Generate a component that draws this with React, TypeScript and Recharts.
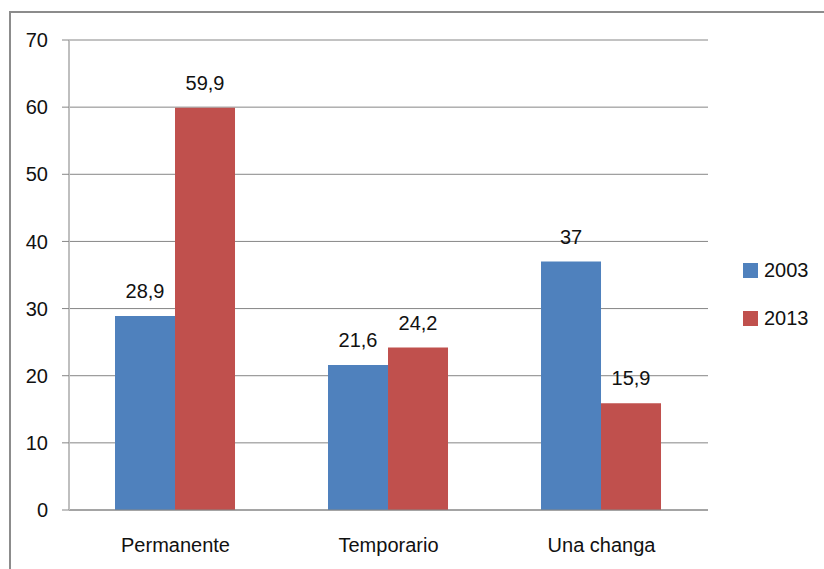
import React from 'react'
import { BarChart, Bar, XAxis, YAxis, CartesianGrid, Legend, LabelList } from 'recharts'

// categorías de ocupación
const categories = ['Permanente', 'Temporario', 'Una changa']
// porcentajes por año
const values2003 = [28.9, 21.6, 37]
const values2013 = [59.9, 24.2, 15.9]
const yTicks = [0, 10, 20, 30, 40, 50, 60, 70]
const seriesNames = ['2003', '2013']
const seriesColors = ['#4F81BD', '#C0504D']

const data = categories.map((name, i) => ({
  name,
  a: values2003[i],
  b: values2013[i],
}))

const FONT = '"Liberation Sans", Arial, sans-serif'
const TEXT = '#111'

// formato con coma decimal
const fmt = (v: number) => String(v).replace('.', ',')

const LegendBox = () => (
  <div style={{ paddingLeft: 35, fontFamily: FONT, fontSize: 20, color: TEXT }}>
    {seriesNames.map((s, i) => (
      <div key={s} style={{ height: 48, display: 'flex', alignItems: 'center' }}>
        <span style={{ width: 15, height: 15, background: seriesColors[i], marginRight: 6, display: 'inline-block' }} />
        <span>{s}</span>
      </div>
    ))}
  </div>
)

export default function App() {
  return (
    <div
      style={{
        position: 'absolute',
        left: 9,
        top: 11,
        width: 813,
        height: 556,
        borderTop: '2px solid #8c8c8c',
        borderLeft: '2px solid #8c8c8c',
        background: '#fff',
        overflow: 'hidden',
      }}
    >
      <BarChart
        width={813}
        height={556}
        data={data}
        margin={{ top: 27, right: 12, left: 0, bottom: 0 }}
        barCategoryGap='21.6%'
        barGap={0}
      >
        <CartesianGrid vertical={false} stroke='#868686' />
        {/* eje auxiliar: solo marcas entre categorías */}
        <XAxis
          xAxisId='marks'
          type='number'
          domain={[0, 3]}
          ticks={[0, 1, 2, 3]}
          height={0}
          axisLine={false}
          tickSize={8}
          tickLine={{ stroke: '#868686' }}
          tickFormatter={() => ''}
        />
        <XAxis
          dataKey='name'
          height={59}
          axisLine={{ stroke: '#868686' }}
          tickLine={false}
          tickSize={8}
          tickMargin={20}
          tick={{ fill: TEXT, fontSize: 20, fontFamily: FONT }}
        />
        <YAxis
          width={58}
          domain={[0, 70]}
          ticks={yTicks}
          axisLine={{ stroke: '#bfbfbf', strokeWidth: 2 }}
          tickLine={{ stroke: '#868686' }}
          tickSize={7}
          tickMargin={14}
          tick={{ fill: TEXT, fontSize: 20, fontFamily: FONT }}
        />
        <Legend
          layout='vertical'
          align='right'
          verticalAlign='top'
          content={<LegendBox />}
          wrapperStyle={{ width: 104, top: 233 }}
        />
        <Bar dataKey='a' name={seriesNames[0]} fill={seriesColors[0]} isAnimationActive={false}>
          <LabelList dataKey='a' position='top' offset={18} formatter={fmt} fill={TEXT} fontSize={20} fontFamily={FONT} />
        </Bar>
        <Bar dataKey='b' name={seriesNames[1]} fill={seriesColors[1]} isAnimationActive={false}>
          <LabelList dataKey='b' position='top' offset={18} formatter={fmt} fill={TEXT} fontSize={20} fontFamily={FONT} />
        </Bar>
      </BarChart>
    </div>
  )
}
